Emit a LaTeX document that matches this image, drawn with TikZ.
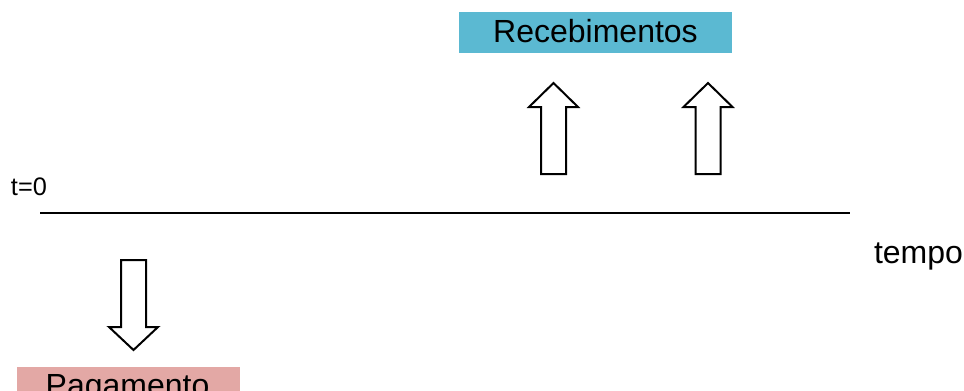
\documentclass[tikz,border=0pt]{standalone}
\usepackage{fontspec}
\setmainfont{Liberation Sans}
\definecolor{recblue}{HTML}{5BB9D2}
\definecolor{pagred}{HTML}{E3A8A5}
\begin{document}
\begin{tikzpicture}[x=0.75pt,y=-0.75pt,line width=1.5pt,
  bigtext/.style={inner sep=0pt,font=\fontsize{24}{28}\selectfont},
  smalltext/.style={inner sep=0pt,font=\fontsize{19}{22}\selectfont}]
\useasboundingbox (0,0) rectangle (964,390);
\clip (0,0) rectangle (964,390);

% boxes
\fill[recblue] (459,12) rectangle (732,53);
\fill[pagred] (17,367) rectangle (240,408);
\node[bigtext,anchor=base] (rec) at (595.5,42) {Recebimentos};
\node[bigtext,anchor=base] (pag) at (127.5,396) {Pagamento};

% time axis
\coordinate (start) at (40,213);
\coordinate (end) at (850,213);
\draw (start) -- (end);
\node[smalltext,anchor=base west] (t0) at (10,195) {t=0};
\node[bigtext,anchor=base west] (tempo) at (873,263) {tempo};

% arrows
\foreach \x in {553.5,708}
  \draw[fill=white] (\x,83) -- ++(24.5,24) -- ++(-12,0) -- ++(0,67)
    -- ++(-25,0) -- ++(0,-67) -- ++(-12,0) -- cycle;
\draw[fill=white] (133.5,350) -- ++(24.5,-23) -- ++(-12,0) -- ++(0,-67)
  -- ++(-25,0) -- ++(0,67) -- ++(-12,0) -- cycle;
\end{tikzpicture}
\end{document}
